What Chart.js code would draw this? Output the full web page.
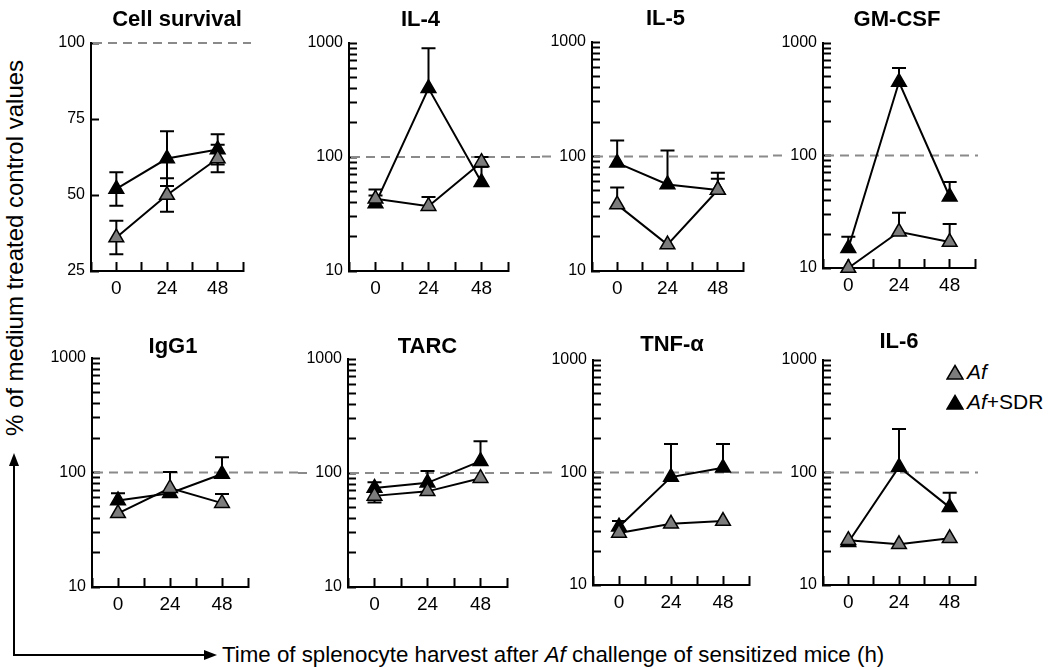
<!DOCTYPE html>
<html>
<head>
<meta charset="utf-8">
<script src="https://cdn.jsdelivr.net/npm/chart.js@4.4.1/dist/chart.umd.min.js"></script>
<style>
  body { margin: 0; width: 1050px; height: 670px; position: relative; overflow: hidden; background: #fff;
         font-family: "Liberation Sans", Arial, sans-serif; color: #000; }
  canvas { position: absolute; }
  #ylab { position: absolute; left: 15px; top: 248px; transform: translate(-50%, -50%) rotate(-90deg);
          white-space: nowrap; font-size: 24px; }
  #xlab { position: absolute; left: 222px; top: 642px; white-space: nowrap; font-size: 22.3px; line-height: 26px; }
  #legend { position: absolute; left: 946px; top: 357px; font-size: 21px; }
  #legend .row { height: 30px; display: flex; align-items: center; white-space: nowrap; }
  #legend svg { margin-right: 3px; }
  #arrows { position: absolute; left: 0; top: 0; }
</style>
</head>
<body>
<svg id="arrows" width="1050" height="670">
  <line x1="14" y1="655" x2="14" y2="464" stroke="#000" stroke-width="2"/>
  <polygon points="14,453 9,466 19,466" fill="#000"/>
  <line x1="13" y1="655" x2="206" y2="655" stroke="#000" stroke-width="2"/>
  <polygon points="217,655 204,650 204,660" fill="#000"/>
</svg>
<div id="ylab">% of medium treated control values</div>
<div id="xlab">Time of splenocyte harvest after <i>Af</i> challenge of sensitized mice (h)</div>
<div id="legend">
  <div class="row"><svg width="18" height="16"><polygon points="9,1.5 17,15 1,15" fill="#7c7c7c" stroke="#000" stroke-width="1.5"/></svg><i>Af</i></div>
  <div class="row"><svg width="18" height="16"><polygon points="9,1.5 17,15 1,15" fill="#000" stroke="#000" stroke-width="1.5"/></svg><span><i>Af</i>+SDR</span></div>
</div>
<script>
// data
const hours = [0, 24, 48];
const panelNames = ['Cell survival', 'IL-4', 'IL-5', 'GM-CSF', 'IgG1', 'TARC', 'TNF-α', 'IL-6'];

// Af (grey triangles)
const afMean  = [[36, 50, 62], [43, 37, 90], [38, 17, 51], [10, 21, 17], [44, 73, 54], [63, 69, 90], [29, 35, 37], [25, 23, 26]];
const afUpper = [[41.5, 55.5, 66.5], [52, 44.5, 100], [53.5, null, 64], [null, 31, 24.6], [null, 101, 65], [null, null, null], [null, null, null], [null, null, null]];
const afLower = [[30.5, 44.5, 57.5], [null, null, 82], [null, null, null], [null, null, null], [null, null, null], [55, null, null], [null, null, null], [null, null, null]];

// Af+SDR (black triangles)
const sdrMean  = [[52, 62, 65], [39, 400, 60], [88, 57, 51], [15, 450, 43], [57, 66, 97], [74, 82, 127], [33, 91, 110], [24, 112, 49]];
const sdrUpper = [[57.5, 71, 70], [46, 900, 82], [138, 113, 72], [19, 600, 58], [66, null, 136], [83, 104, 190], [37, 179, 179], [null, 244, 66]];
const sdrLower = [[46.5, 53, 60], [null, null, null], [null, null, null], [null, null, null], [null, null, null], [null, null, null], [null, null, null], [null, null, null]];

const xTicksShown = [0, 24, 48];
const logTicks = [10, 20, 30, 40, 50, 60, 70, 80, 90, 100, 200, 300, 400, 500, 600, 700, 800, 900, 1000];
const logLabels = [10, 100, 1000];

// layout: chart area left, top, right, bottom and canvas right edge
const panelBoxes = [
  [91, 43, 248, 271, 258], [349, 43, 508, 271, 542], [592, 42, 743, 271, 773], [823, 43, 982, 268, 990],
  [92, 358, 248, 587, 298], [348, 359, 507, 587, 543], [593, 360, 749, 585, 773], [823, 360, 984, 585, 990]
];
const titleOffsets = [[10, 23], [-8, 23], [-2, 23], [-2, 23], [3, 11], [0, 12], [1, 15], [0, 18]];
const dashFromEdge = [false, false, true, true, false, true, true, true];
const dashEnd = [8, null, null, 3, null, null, null, 3];   // null = run to canvas edge

const YW = 50, XH = 32, PT = 40;
const FONT = '"Liberation Sans", Arial, sans-serif';

const panelTitle = {
  id: 'panelTitle',
  afterDraw(chart, args, opts) {
    const {ctx, chartArea} = chart;
    ctx.save();
    ctx.font = 'bold 22px ' + FONT;
    ctx.fillStyle = '#000';
    ctx.textAlign = 'center';
    ctx.textBaseline = 'middle';
    ctx.fillText(opts.text, (chartArea.left + chartArea.right) / 2 + opts.dx, chartArea.top - opts.dy);
    ctx.restore();
  }
};

const refLine = {
  id: 'refLine',
  beforeDatasetsDraw(chart, args, opts) {
    const {ctx, chartArea} = chart;
    const y = chart.scales.y.getPixelForValue(100);
    ctx.save();
    ctx.strokeStyle = '#8a8a8a';
    ctx.lineWidth = 2;
    ctx.setLineDash([9, 6]);
    const end = opts.end == null ? chart.width : chartArea.right + opts.end;
    ctx.beginPath();
    if (opts.fromEdge) {
      ctx.font = '16px ' + FONT;
      const lw = ctx.measureText('100').width;
      ctx.moveTo(0, y);
      ctx.lineTo(chartArea.left - 6 - lw - 4, y);
    }
    ctx.moveTo(chartArea.left + 2, y);
    ctx.lineTo(end, y);
    ctx.stroke();
    ctx.restore();
  }
};

const errorBars = {
  id: 'errorBars',
  beforeDatasetsDraw(chart) {
    const {ctx} = chart;
    const xs = chart.scales.x, ys = chart.scales.y;
    ctx.save();
    ctx.strokeStyle = '#000';
    ctx.lineWidth = 2;
    chart.data.datasets.forEach(ds => {
      ds.data.forEach((p, i) => {
        const px = xs.getPixelForValue(p.x), py = ys.getPixelForValue(p.y);
        [ds.errUp[i], ds.errDown[i]].forEach(v => {
          if (v == null) return;
          const ey = ys.getPixelForValue(v);
          ctx.beginPath();
          ctx.moveTo(px, py); ctx.lineTo(px, ey);
          ctx.moveTo(px - 7, ey); ctx.lineTo(px + 7, ey);
          ctx.stroke();
        });
      });
    });
    ctx.restore();
  }
};

function series(label, means, up, down, fill) {
  return {
    label: label,
    data: hours.map((h, j) => ({x: h, y: means[j]})),
    errUp: up, errDown: down,
    borderColor: '#000', borderWidth: 2, tension: 0,
    pointStyle: 'triangle', pointRadius: 8.5,
    pointBackgroundColor: fill, pointBorderColor: '#000', pointBorderWidth: 1.5,
    clip: false
  };
}

function makePanel(i) {
  const [L, T, R, B, CR] = panelBoxes[i];
  const canvas = document.createElement('canvas');
  const left = L - YW, top = T - PT;
  canvas.width = CR - left;
  canvas.height = B + XH - top;
  canvas.style.left = left + 'px';
  canvas.style.top = top + 'px';
  document.body.appendChild(canvas);

  const isLog = i > 0;
  const yScale = isLog ? {
    type: 'logarithmic', min: 10, max: 1000,
    afterBuildTicks: s => { s.ticks = logTicks.map(v => ({value: v})); },
    ticks: { autoSkip: false, padding: 14, color: '#000', font: {size: 16, family: FONT},
             callback: v => logLabels.includes(v) ? String(v) : '' }
  } : {
    type: 'linear', min: 25, max: 100,
    ticks: { stepSize: 25, autoSkip: false, padding: 14, color: '#000', font: {size: 16, family: FONT} }
  };
  Object.assign(yScale, {
    grid: { drawOnChartArea: false, drawTicks: true, tickLength: -8, tickColor: '#000', tickWidth: 2 },
    border: { display: true, color: '#000', width: 2 },
    afterFit: s => { s.width = YW; }
  });

  new Chart(canvas, {
    type: 'line',
    data: {
      datasets: [
        series('Af', afMean[i], afUpper[i], afLower[i], '#7c7c7c'),
        series('Af+SDR', sdrMean[i], sdrUpper[i], sdrLower[i], '#000')
      ]
    },
    options: {
      responsive: false,
      animation: false,
      events: [],
      layout: { padding: { top: PT, right: CR - R, left: 0, bottom: 0 } },
      plugins: {
        legend: { display: false },
        tooltip: { enabled: false },
        panelTitle: { text: panelNames[i], dx: titleOffsets[i][0], dy: titleOffsets[i][1] },
        refLine: { fromEdge: dashFromEdge[i], end: dashEnd[i] }
      },
      scales: {
        x: {
          type: 'linear', min: -12, max: 60,
          ticks: { stepSize: 12, autoSkip: false, padding: 15, color: '#000', maxRotation: 0,
                   font: {size: 19, family: FONT},
                   callback: v => xTicksShown.includes(v) ? String(v) : '' },
          grid: { drawOnChartArea: false, drawTicks: true, tickLength: -9, tickColor: '#000', tickWidth: 2 },
          border: { display: true, color: '#000', width: 2 },
          afterFit: s => { s.height = XH; }
        },
        y: yScale
      }
    },
    plugins: [panelTitle, refLine, errorBars]
  });
}

for (let i = 0; i < panelNames.length; i++) makePanel(i);
</script>
</body>
</html>
